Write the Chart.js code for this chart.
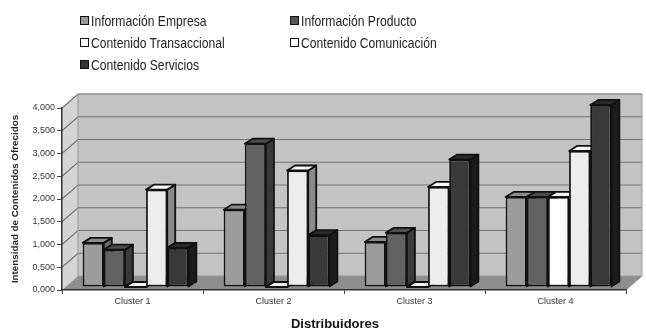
<!DOCTYPE html>
<html>
<head>
<meta charset="utf-8">
<script src="https://cdn.jsdelivr.net/npm/chart.js@4.4.1/dist/chart.umd.min.js"></script>
<style>
  html, body { margin: 0; padding: 0; background: #fff; }
  #wrap { position: relative; width: 646px; height: 331px; }
  #legend { position: absolute; left: 0; top: 0; width: 646px; height: 80px;
    font-family: "Liberation Sans", Arial, sans-serif; font-size: 15px; color: #222; }
  .item { position: absolute; height: 18px; display: flex; align-items: center; white-space: nowrap; }
  .box { width: 7px; height: 7px; border: 1.5px solid #111; margin-right: 2px; flex: none; }
  .txt { display: inline-block; transform: scaleX(0.81); transform-origin: left center; }
</style>
</head>
<body>
<div id="wrap">
  <canvas id="chart" width="646" height="331"></canvas>
  <div id="legend"></div>
</div>
<script>
const categories = ['Cluster 1', 'Cluster 2', 'Cluster 3', 'Cluster 4'];
const seriesNames = ['Información Empresa', 'Información Producto', 'Contenido Transaccional',
  'Contenido Comunicación', 'Contenido Servicios'];
const infoEmpresa = [0.97, 1.70, 0.99, 1.98];
const infoProducto = [0.82, 3.15, 1.19, 1.98];
const contTransaccional = [0, 0, 0, 1.98];
const contComunicacion = [2.14, 2.56, 2.20, 2.99];
const contServicios = [0.86, 1.14, 2.80, 4.00];
const yTickLabels = ['0,000', '0,500', '1,000', '1,500', '2,000', '2,500', '3,000', '3,500', '4,000'];

const frontColors = ['#9c9c9c', '#626262', '#ffffff', '#ededed', '#3a3a3a'];
const topColors = ['#8a8a8a', '#4c4c4c', '#f2f2f2', '#fafafa', '#2a2a2a'];
const sideColors = ['#6a6a6a', '#3a3a3a', '#9a9a9a', '#8a8a8a', '#1c1c1c'];
const legendColors = ['#999999', '#555555', '#ffffff', '#ffffff', '#333333'];

// legend (two columns, like the original)
const legendPos = [[80, 11], [290, 11], [80, 33], [290, 33], [80, 55]];
const legendEl = document.getElementById('legend');
seriesNames.forEach((name, i) => {
  const it = document.createElement('div');
  it.className = 'item';
  it.style.left = legendPos[i][0] + 'px';
  it.style.top = legendPos[i][1] + 'px';
  it.innerHTML = `<span class="box" style="background:${legendColors[i]}"></span><span class="txt">${name}</span>`;
  legendEl.appendChild(it);
});

const WALL = { dx: 16, dy: -14 };
const SHIFT = { dx: 3, dy: -3 };
const DEPTH = { dx: 8, dy: -5 };

function quad(ctx, pts, fill) {
  ctx.beginPath();
  ctx.moveTo(pts[0][0], pts[0][1]);
  for (let k = 1; k < pts.length; k++) ctx.lineTo(pts[k][0], pts[k][1]);
  ctx.closePath();
  if (fill) { ctx.fillStyle = fill; ctx.fill(); }
}

const box3d = {
  id: 'box3d',
  beforeDraw(chart) {
    const { ctx, chartArea: a, scales: { y } } = chart;
    const dx = WALL.dx, dy = WALL.dy;
    ctx.save();
    // back wall
    quad(ctx, [[a.left + dx, a.top + dy], [a.right + dx, a.top + dy], [a.right + dx, a.bottom + dy], [a.left + dx, a.bottom + dy]], '#c3c3c3');
    // left wall
    quad(ctx, [[a.left, a.bottom], [a.left, a.top], [a.left + dx, a.top + dy], [a.left + dx, a.bottom + dy]], '#d4d4d4');
    // floor
    quad(ctx, [[a.left, a.bottom], [a.right, a.bottom], [a.right + dx, a.bottom + dy], [a.left + dx, a.bottom + dy]], '#8e8e8e');
    // grid lines on the walls
    ctx.strokeStyle = '#747474';
    ctx.lineWidth = 1.2;
    y.ticks.forEach(t => {
      const py = y.getPixelForValue(t.value);
      if (t.value === 0) return;
      ctx.beginPath();
      ctx.moveTo(a.left, py);
      ctx.lineTo(a.left + dx, py + dy);
      ctx.lineTo(a.right + dx, py + dy);
      ctx.stroke();
    });
    ctx.strokeStyle = '#9a9a9a';
    ctx.lineWidth = 1;
    quad(ctx, [[a.left + dx, a.bottom + dy], [a.left + dx, a.top + dy], [a.right + dx, a.top + dy], [a.right + dx, a.bottom + dy]]);
    ctx.stroke();
    ctx.beginPath();
    ctx.moveTo(a.right, a.bottom);
    ctx.lineTo(a.right + dx, a.bottom + dy);
    ctx.stroke();
    ctx.restore();
  },
  beforeDatasetsDraw(chart) {
    const ctx = chart.ctx;
    ctx.save();
    ctx.translate(SHIFT.dx, SHIFT.dy);
    ctx.lineWidth = 1.8;
    ctx.strokeStyle = '#111';
    ctx.lineJoin = 'round';
    categories.forEach((c, j) => {
      chart.data.datasets.forEach((ds, i) => {
        const el = chart.getDatasetMeta(i).data[j];
        const l = el.x - el.width / 2, r = el.x + el.width / 2, t = el.y, b = el.base;
        quad(ctx, [[r, t], [r + DEPTH.dx, t + DEPTH.dy], [r + DEPTH.dx, b + DEPTH.dy], [r, b]], sideColors[i]);
        ctx.stroke();
        quad(ctx, [[l, t], [l + DEPTH.dx, t + DEPTH.dy], [r + DEPTH.dx, t + DEPTH.dy], [r, t]], topColors[i]);
        ctx.stroke();
      });
    });
  },
  afterDatasetsDraw(chart) {
    chart.ctx.restore();
  },
  afterDraw(chart) {
    const { ctx, chartArea: a } = chart;
    ctx.save();
    ctx.font = 'bold 13px Arial, "Liberation Sans", sans-serif';
    ctx.fillStyle = '#111';
    ctx.textAlign = 'center';
    ctx.textBaseline = 'middle';
    ctx.fillText('Distribuidores', (a.left + a.right) / 2 - 9, 324);
    ctx.restore();
  }
};

const seriesData = [infoEmpresa, infoProducto, contTransaccional, contComunicacion, contServicios];

new Chart(document.getElementById('chart'), {
  type: 'bar',
  data: {
    labels: categories,
    datasets: seriesNames.map((name, i) => ({
      label: name,
      data: seriesData[i],
      backgroundColor: frontColors[i],
      borderColor: '#111',
      borderWidth: 1.8,
      borderSkipped: false,
      categoryPercentage: 0.75,
      barPercentage: 1.0,
      clip: false
    }))
  },
  options: {
    responsive: false,
    animation: false,
    devicePixelRatio: 1,
    layout: { padding: { top: 108, right: 20, bottom: 0, left: 0 } },
    plugins: { legend: { display: false }, tooltip: { enabled: false } },
    scales: {
      x: {
        offset: true,
        grid: { display: true, drawOnChartArea: false, drawTicks: true, tickLength: 4, color: '#444', offset: true },
        border: { display: true, color: '#333', width: 1.5 },
        ticks: { color: '#333', font: { family: 'Arial, "Liberation Sans", sans-serif', size: 9 }, padding: 2 },
        afterFit(scale) { scale.height = 41; }
      },
      y: {
        min: 0, max: 4,
        ticks: {
          stepSize: 0.5,
          color: '#333',
          font: { family: 'Arial, "Liberation Sans", sans-serif', size: 9 },
          padding: 2,
          callback: (v, idx) => yTickLabels[idx]
        },
        grid: { display: true, drawOnChartArea: false, drawTicks: true, tickLength: 5, color: '#444' },
        border: { display: true, color: '#333', width: 1.5 },
        title: {
          display: true,
          text: 'Intensidad de Contenidos Ofrecidos',
          color: '#222',
          font: { family: 'Arial, "Liberation Sans", sans-serif', size: 9.8, weight: 'bold', lineHeight: 1 },
          padding: { top: 10, bottom: 0 }
        },
        afterFit(scale) { scale.width = 62; }
      }
    }
  },
  plugins: [box3d]
});
</script>
</body>
</html>
